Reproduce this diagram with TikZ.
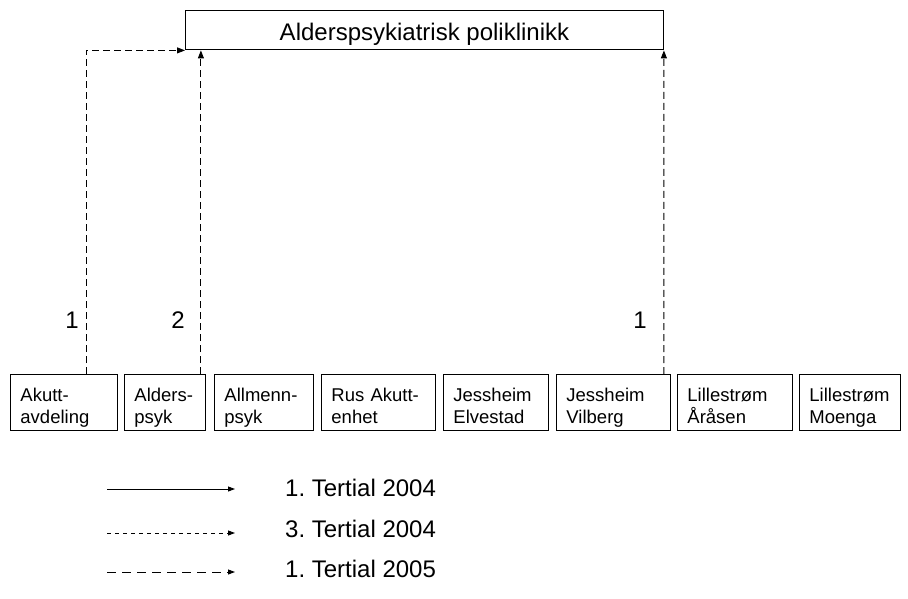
\documentclass[tikz,border=0pt]{standalone}
\usepackage{fontspec}
\setmainfont{Liberation Sans}
\frenchspacing
\usetikzlibrary{arrows.meta,calc}
\begin{document}
\begin{tikzpicture}[x=1bp,y=-1bp,
  box/.style={draw, line width=0.9bp, anchor=north west, inner xsep=10bp, inner ysep=0pt,
    align=left, text height=27bp, text depth=29bp, font=\fontsize{18.5bp}{22bp}\selectfont},
  topbox/.style={draw, line width=0.9bp, anchor=north west, inner sep=0pt,
    minimum width=478bp, text height=30bp, text depth=9bp, font=\fontsize{24bp}{28bp}\selectfont},
  conn/.style={line width=0.9bp, dash pattern=on 7bp off 4bp, -{Triangle[length=8bp,width=6bp]}},
  legline/.style={line width=0.9bp, -{Triangle[length=7bp,width=5bp]}},
  lab/.style={font=\fontsize{24bp}{28bp}\selectfont, inner sep=0pt},
]
\useasboundingbox (0,0) rectangle (908,599);

\node[topbox] (top) at (185,10.5) {Alderspsykiatrisk poliklinikk};

\node[box, text width=87bp] (b1) at (10,374) {Akutt-\\avdeling};
\node[box, text width=61bp] (b2) at (124,374) {Alders-\\psyk};
\node[box, text width=79bp] (b3) at (214,374) {Allmenn-\\psyk};
\node[box, text width=94bp] (b4) at (321,374) {Rus Akutt-\\enhet};
\node[box, text width=85bp] (b5) at (443,374) {Jessheim\\Elvestad};
\node[box, text width=94bp] (b6) at (556,374) {Jessheim\\Vilberg};
\node[box, text width=95bp] (b7) at (677,374) {Lillestrøm\\Åråsen};
\node[box, text width=81bp] (b8) at (799,374) {Lillestrøm\\Moenga};

\coordinate (c1) at ([xshift=76bp]b1.north west);
\coordinate (c2) at ([xshift=-5bp]b2.north east);
\coordinate (c3) at ([xshift=-7bp]b6.north east);
\draw[conn] (c1) |- (top.south west);
\draw[conn] (c2) -- (c2 |- top.south);
\draw[conn] (c3) -- (top.south east);

\node[lab] (n1) at (72,320) {1};
\node[lab] (n2) at (178,320) {2};
\node[lab] (n3) at (640,320) {1};

\coordinate (la1) at (107,489); \coordinate (lb1) at (235,489);
\coordinate (la2) at (107,533); \coordinate (lb2) at (235,533);
\coordinate (la3) at (107,572); \coordinate (lb3) at (235,572);
\draw[legline] (la1) -- (lb1);
\draw[legline, dash pattern=on 4bp off 4bp] (la2) -- (lb2);
\draw[legline, dash pattern=on 9bp off 6bp] (la3) -- (lb3);

\node[lab, anchor=west] (t1) at (285,487.5) {1. Tertial 2004};
\node[lab, anchor=west] (t2) at (285,528.5) {3. Tertial 2004};
\node[lab, anchor=west] (t3) at (285,568.5) {1. Tertial 2005};
\end{tikzpicture}
\end{document}
